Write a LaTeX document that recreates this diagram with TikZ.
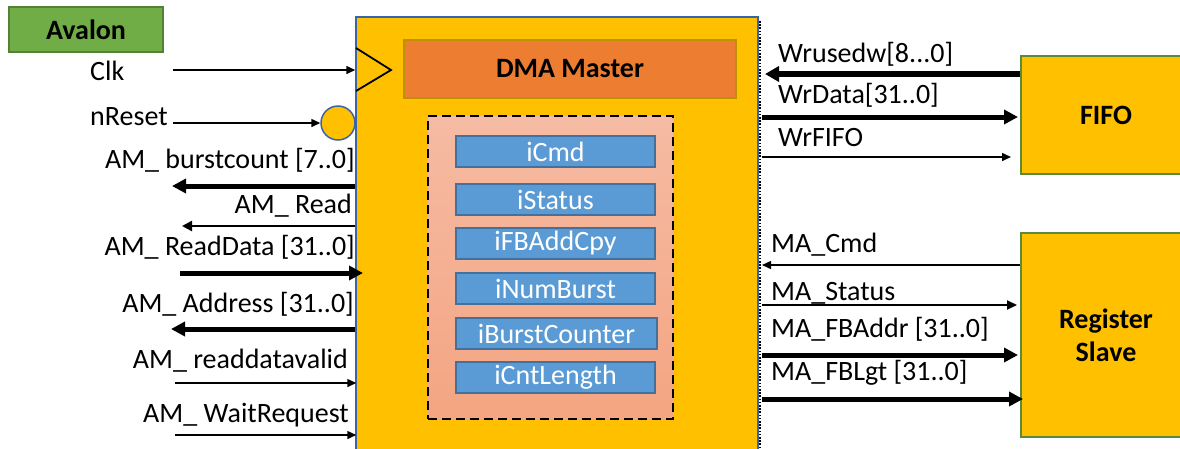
\documentclass[tikz,border=0pt]{standalone}
\usepackage{fontspec}
\setmainfont{Carlito}
\usetikzlibrary{arrows.meta}
\definecolor{amber}{HTML}{FFC000}
\definecolor{leaf}{HTML}{70AD47}
\definecolor{leafdark}{HTML}{548235}
\definecolor{pumpkin}{HTML}{ED7D31}
\definecolor{gold}{HTML}{BF9000}
\definecolor{sky}{HTML}{5B9BD5}
\definecolor{skydark}{HTML}{41719C}
\definecolor{navy}{HTML}{3A64A8}
\definecolor{salmontop}{HTML}{F5BBA3}
\definecolor{salmonbot}{HTML}{F4A582}
\tikzset{
  txt/.style={font=\fontsize{28}{34}\selectfont, inner sep=0pt},
  boldtxt/.style={font=\fontsize{28}{34}\selectfont\bfseries, inner sep=0pt},
  sig/.style={line width=1.5pt, -{Triangle[length=9pt,width=8pt]}},
  midsig/.style={line width=2.5pt, -{Triangle[length=10pt,width=10pt]}},
  bus/.style={line width=5pt, -{Triangle[length=14pt,width=14pt]}},
  reg/.style={draw=skydark, line width=1.8pt, fill=sky, text=white,
    font=\fontsize{28}{34}\selectfont, minimum width=199pt, minimum height=31pt,
    inner sep=0pt},
  unit/.style={draw=leafdark!80!leaf, line width=2pt, fill=amber,
    font=\fontsize{28}{34}\selectfont\bfseries, align=center, inner sep=0pt},
}
\begin{document}
\begin{tikzpicture}[x=1pt,y=-1pt]
\useasboundingbox (0,0) rectangle (1180,448);

% main DMA block (runs off the bottom edge)
\node[draw=navy, line width=1.5pt, fill=amber, minimum width=402pt,
  minimum height=460pt, inner sep=0pt] (dma) at (557,247) {};
\draw[black, line width=2.5pt, dash pattern=on 1.6pt off 1.6pt]
  (760,21) -- (760,470);

% clock input triangle
\coordinate (tri1) at (356,48);
\coordinate (tri2) at (391,70);
\coordinate (tri3) at (356,91);
\draw[line width=1.8pt, line join=miter] (tri1) -- (tri2) -- (tri3);

% reset bubble
\node[circle, draw=navy, line width=1.5pt, fill=amber, minimum size=34pt,
  inner sep=0pt] (rst) at (338,123) {};

% internal blocks
\node[draw=gold, line width=2pt, fill=pumpkin, minimum width=332pt,
  minimum height=58pt, inner sep=0pt, boldtxt] (master) at (570,69) {DMA Master};
\node[draw=black, line width=2pt, dash pattern=on 9pt off 5pt,
  top color=salmontop, bottom color=salmonbot, minimum width=245pt,
  minimum height=303pt, inner sep=0pt] (regs) at (550.5,267.5) {};
\node[reg] (rCmd) at (555.5,151.5) {iCmd};
\node[reg] (rStatus) at (555.5,199.5) {iStatus};
\node[reg] (rFB) at (555.5,243.5) {iFBAddCpy};
\node[reg] (rNum) at (555.5,288.5) {iNumBurst};
\node[reg, minimum width=201pt] (rBurst) at (556.5,333.5) {iBurstCounter};
\node[reg] (rCnt) at (555.5,377.5) {iCntLength};

% external blocks
\node[draw=leafdark, line width=2pt, fill=leaf, minimum width=154pt,
  minimum height=45pt, inner sep=0pt, boldtxt] (avalon) at (86,29.5) {Avalon};
\node[unit, minimum width=170pt, minimum height=118pt] (fifo) at (1106,115) {FIFO};
\node[unit, minimum width=170pt, minimum height=204pt] (slave) at (1106,335)
  {Register\\[-1pt]Slave};

% left-side signal labels
\node[txt, anchor=base west] (lClk) at (90,80) {Clk};
\node[txt, anchor=base west] (lRst) at (90,125) {nReset};
\node[txt, anchor=base east] (lBurst) at (355,168) {AM\_ burstcount [7..0]};
\node[txt, anchor=base east] (lRead) at (352,213) {AM\_ Read};
\node[txt, anchor=base east] (lRData) at (355,255) {AM\_ ReadData [31..0]};
\node[txt, anchor=base east] (lAddr) at (354,312) {AM\_ Address [31..0]};
\node[txt, anchor=base east] (lValid) at (348,368) {AM\_ readdatavalid};
\node[txt, anchor=base east] (lWait) at (349,422) {AM\_ WaitRequest};

% right-side signal labels
\node[txt, anchor=base west] (lUsed) at (778,62) {Wrusedw[8...0]};
\node[txt, anchor=base west] (lWData) at (778,103) {WrData[31..0]};
\node[txt, anchor=base west] (lWr) at (778,146) {WrFIFO};
\node[txt, anchor=base west] (lCmd) at (771,252) {MA\_Cmd};
\node[txt, anchor=base west] (lStat) at (771,300) {MA\_Status};
\node[txt, anchor=base west] (lFBA) at (771,337) {MA\_FBAddr [31..0]};
\node[txt, anchor=base west] (lFBL) at (771,380) {MA\_FBLgt [31..0]};

% free ends of the Avalon-side connectors
\coordinate (eClk) at (173,70);
\coordinate (eRst) at (173,123);
\coordinate (eBurst) at (172,186);
\coordinate (eRead) at (182,226);
\coordinate (eRData) at (180,273);
\coordinate (tRData) at (363,273);
\coordinate (eAddr) at (171,329);
\coordinate (eValid) at (175,383);
\coordinate (eWait) at (175,435);

% free ends on the right-hand side
\coordinate (pUsed) at (765,74);
\coordinate (pWData) at (762,117);
\coordinate (tWData) at (1018,117);
\coordinate (pWr) at (762,157);
\coordinate (tWr) at (1011,157);
\coordinate (pCmd) at (762,265);
\coordinate (pStat) at (762,305);
\coordinate (tStat) at (1017,305);
\coordinate (pFBA) at (762,355);
\coordinate (tFBA) at (1018,355);
\coordinate (pFBL) at (762,399);
\coordinate (tFBL) at (1023,399);

% Avalon-side connectors
\draw[sig] (eClk) -- (dma.west |- eClk);
\draw[sig] (eRst) -- (rst.west);
\draw[bus] (dma.west |- eBurst) -- (eBurst);
\draw[midsig] (dma.west |- eRead) -- (eRead);
\draw[bus] (eRData) -- (tRData);
\draw[bus] (dma.west |- eAddr) -- (eAddr);
\draw[sig] (eValid) -- ([xshift=1pt]dma.west |- eValid);
\draw[sig] (eWait) -- ([xshift=1pt]dma.west |- eWait);

% FIFO connectors
\draw[line width=6pt, -{Triangle[length=14pt,width=15pt]}] (fifo.west |- pUsed) -- (pUsed);
\draw[bus] (pWData) -- (tWData);
\draw[sig] (pWr) -- (tWr);

% register slave connectors
\draw[sig] (slave.west |- pCmd) -- (pCmd);
\draw[line width=2pt, -{Triangle[length=10pt,width=9pt]}] (pStat) -- (tStat);
\draw[bus] (pFBA) -- (tFBA);
\draw[bus] (pFBL) -- (tFBL);
\end{tikzpicture}
\end{document}
